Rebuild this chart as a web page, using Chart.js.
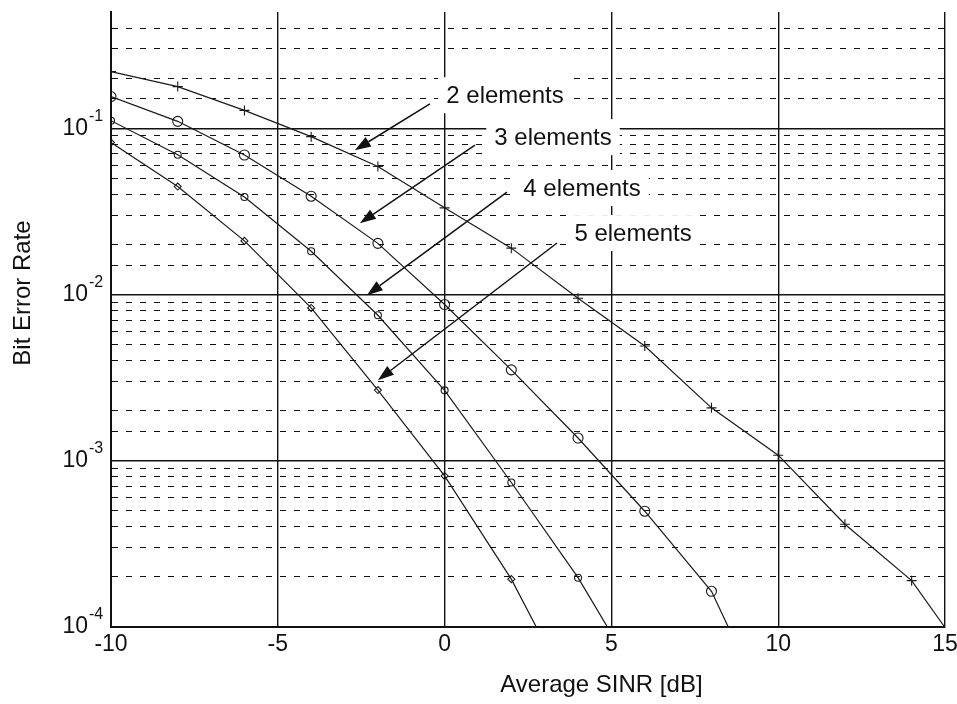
<!DOCTYPE html>
<html>
<head>
<meta charset="utf-8">
<script src="https://cdn.jsdelivr.net/npm/chart.js@4.4.1/dist/chart.umd.min.js"></script>
<style>
  html, body { margin: 0; padding: 0; background: #fff; }
  canvas { display: block; }
</style>
</head>
<body>
<canvas id="ber" width="957" height="704"></canvas>
<script>
// Average SINR (dB) at which each receiver configuration was evaluated
const sinrDb = [-10, -8, -6, -4, -2, 0, 2, 4, 6, 8, 10, 12, 14, 16];

// Bit error rate per number of antenna elements
const ber2 = [0.219, 0.178, 0.128, 0.089, 0.0588, 0.0332, 0.019, 0.0095, 0.0049, 0.00208, 0.00108, 0.000415, 0.00019, 0.000052];
const ber3 = [0.155, 0.110, 0.069, 0.039, 0.0203, 0.0087, 0.00352, 0.00137, 0.000497, 0.000164, 0.000023];
const ber4 = [0.111, 0.0693, 0.0386, 0.0182, 0.0075, 0.00265, 0.00074, 0.000198, 0.000042];
const ber5 = [0.082, 0.0446, 0.021, 0.0083, 0.00266, 0.00081, 0.000194, 0.000033];

const seriesNames = ['2 elements', '3 elements', '4 elements', '5 elements'];
const xTicks = [-10, -5, 0, 5, 10, 15];
const yMin = 1e-4, yMax = 0.5;

// Callout labels: text anchor, arrow tail and arrow tip in data units
const callouts = [
  { text: '2 elements', at: [1.81, 0.158],  from: [-0.44, 0.140],  to: [-2.69, 0.0738] },
  { text: '3 elements', at: [3.25, 0.0883], from: [0.91, 0.079],   to: [-2.54, 0.0268] },
  { text: '4 elements', at: [4.12, 0.0437], from: [1.87, 0.0413],  to: [-2.33, 0.0099] },
  { text: '5 elements', at: [5.65, 0.0234], from: [3.37, 0.0204],  to: [-2.00, 0.00305] }
];

const FONT = '"Liberation Sans", Arial, Helvetica, sans-serif';
const INK = '#111';

const pairs = (ys) => ys.map((v, i) => ({ x: sinrDb[i], y: v }));
const isDecade = (v) => {
  const e = Math.log10(v);
  return Math.abs(e - Math.round(e)) < 1e-9;
};

const lineStyle = {
  borderColor: '#1a1a1a',
  borderWidth: 1.2,
  pointBorderColor: '#1a1a1a',
  pointBackgroundColor: 'rgba(0,0,0,0)',
  pointBorderWidth: 1.1,
  tension: 0,
  fill: false
};

// Powers of ten on the y axis, written as 10 with a raised exponent
const decadeLabels = {
  id: 'decadeLabels',
  afterDraw(chart) {
    const { ctx, chartArea } = chart;
    const ys = chart.scales.y;
    ctx.save();
    ctx.fillStyle = INK;
    ctx.textBaseline = 'middle';
    ys.ticks.forEach((t) => {
      if (!isDecade(t.value)) return;
      const py = ys.getPixelForValue(t.value);
      const exp = Math.round(Math.log10(t.value));
      ctx.font = `23px ${FONT}`;
      ctx.textAlign = 'right';
      ctx.fillText('10', chartArea.left - 23, py);
      ctx.font = `16px ${FONT}`;
      ctx.textAlign = 'left';
      ctx.fillText(String(exp), chartArea.left - 22, py - 12);
    });
    ctx.restore();
  }
};

// Axis titles
const axisTitles = {
  id: 'axisTitles',
  afterDraw(chart) {
    const { ctx, chartArea } = chart;
    const xs = chart.scales.x;
    ctx.save();
    ctx.fillStyle = INK;
    ctx.font = `24px ${FONT}`;
    ctx.textAlign = 'center';
    ctx.textBaseline = 'middle';
    ctx.fillText('Average SINR [dB]', xs.getPixelForValue(4.7), chartArea.bottom + 58);
    ctx.translate(23, chartArea.top + 281);
    ctx.rotate(-Math.PI / 2);
    ctx.fillText('Bit Error Rate', 0, 0);
    ctx.restore();
  }
};

// Boxed callout text with arrows pointing at each curve
const calloutArrows = {
  id: 'calloutArrows',
  afterDatasetsDraw(chart) {
    const { ctx } = chart;
    const xs = chart.scales.x, ys = chart.scales.y;
    const px = (p) => [xs.getPixelForValue(p[0]), ys.getPixelForValue(p[1])];
    ctx.save();
    ctx.font = `24px ${FONT}`;
    callouts.forEach((c) => {
      const [cx, cy] = px(c.at);
      const w = ctx.measureText(c.text).width + 16;
      const h = 36;
      ctx.fillStyle = '#fff';
      ctx.fillRect(cx - w / 2, cy - h / 2, w, h);
      ctx.fillStyle = INK;
      ctx.textAlign = 'center';
      ctx.textBaseline = 'middle';
      ctx.fillText(c.text, cx, cy + 1);

      const [x0, y0] = px(c.from);
      const [x1, y1] = px(c.to);
      const ang = Math.atan2(y1 - y0, x1 - x0);
      const len = 16, half = 5.5;
      const bx = x1 - len * Math.cos(ang), by = y1 - len * Math.sin(ang);
      ctx.strokeStyle = INK;
      ctx.lineWidth = 1.5;
      ctx.beginPath();
      ctx.moveTo(x0, y0);
      ctx.lineTo(bx, by);
      ctx.stroke();
      ctx.beginPath();
      ctx.moveTo(x1, y1);
      ctx.lineTo(bx + half * Math.sin(ang), by - half * Math.cos(ang));
      ctx.lineTo(bx - half * Math.sin(ang), by + half * Math.cos(ang));
      ctx.closePath();
      ctx.fill();
    });
    ctx.restore();
  }
};

new Chart(document.getElementById('ber'), {
  type: 'line',
  data: {
    datasets: [
      { label: seriesNames[0], data: pairs(ber2), ...lineStyle, pointStyle: 'cross', pointRadius: 5 },
      { label: seriesNames[1], data: pairs(ber3), ...lineStyle, pointStyle: 'circle', pointRadius: 5 },
      { label: seriesNames[2], data: pairs(ber4), ...lineStyle, pointStyle: 'circle', pointRadius: 3.5 },
      { label: seriesNames[3], data: pairs(ber5), ...lineStyle, pointStyle: 'rectRot', pointRadius: 3.5 }
    ]
  },
  options: {
    responsive: false,
    animation: false,
    events: [],
    layout: { padding: { top: 12, right: 12, bottom: 0, left: 0 } },
    plugins: { legend: { display: false }, tooltip: { enabled: false } },
    scales: {
      x: {
        type: 'linear',
        min: -10,
        max: 15,
        afterBuildTicks: (s) => { s.ticks = xTicks.map((v) => ({ value: v })); },
        afterFit: (s) => { s.height = 77; s.paddingLeft = 0; s.paddingRight = 0; },
        ticks: {
          color: INK,
          font: { family: FONT, size: 23 },
          padding: 4,
          maxRotation: 0,
          autoSkip: false
        },
        grid: { color: '#111', lineWidth: 1.4, drawTicks: false },
        border: { color: '#111', width: 2 }
      },
      y: {
        type: 'logarithmic',
        min: yMin,
        max: yMax,
        afterFit: (s) => { s.width = 111; s.paddingTop = 0; s.paddingBottom = 0; },
        ticks: { display: false, autoSkip: false },
        grid: {
          drawTicks: false,
          color: (ctx) => (ctx.tick && ctx.tick.value >= yMax ? 'rgba(0,0,0,0)' : '#111'),
          lineWidth: (ctx) => (ctx.tick && isDecade(ctx.tick.value) ? 1.4 : 1)
        },
        border: {
          color: '#111',
          width: 2,
          dash: (ctx) => (ctx.tick && !isDecade(ctx.tick.value) ? [6, 8] : [])
        }
      }
    }
  },
  plugins: [decadeLabels, axisTitles, calloutArrows]
});
</script>
</body>
</html>
